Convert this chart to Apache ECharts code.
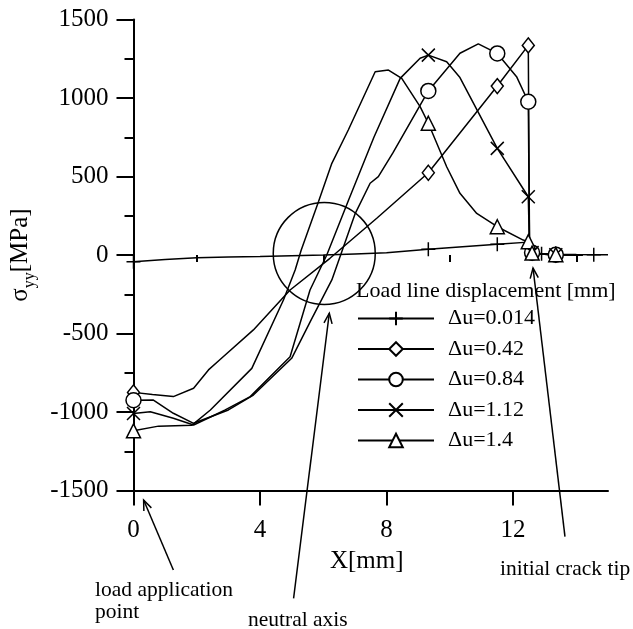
<!DOCTYPE html>
<html lang="en">
<head>
<meta charset="UTF-8">
<title>σyy along the ligament</title>
<script src="https://cdn.jsdelivr.net/npm/echarts@6/dist/echarts.min.js"></script>
<style>
  body { margin: 0; padding: 0; background: #fff; }
  #chart { width: 633px; height: 629px; }
</style>
</head>
<body>
<div id="chart"></div>
<script>
const FONT = "'Liberation Serif', 'Times New Roman', serif";

// x [mm], sigma_yy [MPa]
const du0014 = [[0,-43],[1,-28],[2,-18],[3,-13],[4,-10],[5,-5],[6,0],[7,7],[8,14],[9.32,36],[10.4,52],[11.5,68],[12.48,82],[12.52,15],[12.6,12],[12.9,8],[13.35,5],[14,3],[14.55,2],[15,2]];
const du042 = [[0,-875],[0.6,-888],[1.26,-902],[1.9,-849],[2.37,-732],[2.72,-669],[3.79,-477],[4.95,-223],[6.21,-21],[7.69,234],[9.32,524],[11.5,1076],[12.48,1335],[12.52,25],[12.6,15],[13,5],[13.35,2],[14.2,0]];
const du084 = [[0,-925],[0.63,-924],[1.26,-1008],[1.9,-1072],[3.0,-987],[3.79,-892],[5.0,-658],[5.6,-420],[6.27,-159],[7.0,260],[7.48,457],[7.74,499],[8.2,650],[9.32,1045],[10.32,1285],[10.9,1345],[11.5,1284],[12.11,1136],[12.48,976],[12.52,25],[12.6,15],[13,5],[13.35,2],[14.2,0]];
const du112 = [[0,-1010],[0.53,-998],[1.26,-1040],[1.9,-1083],[2.9,-987],[3.69,-902],[4.95,-648],[5.58,-223],[6.11,0],[6.8,350],[7.6,750],[8.43,1125],[9.06,1253],[9.32,1273],[9.9,1231],[10.32,1130],[11.5,679],[12.48,371],[12.52,25],[12.6,15],[13,5],[13.35,2],[14.2,0]];
const du14 = [[0,-1120],[0.79,-1090],[1.84,-1085],[2.43,-987],[3.74,-722],[4.74,-287],[5.11,-96],[5.3,30],[5.85,340],[6.27,584],[6.79,796],[7.64,1167],[8.06,1178],[8.48,1125],[9.06,945],[9.32,839],[9.9,562],[10.32,393],[10.85,265],[11.5,180],[12.32,95],[12.48,85],[12.52,20],[12.6,12],[13,5],[13.35,2],[14.2,0]];

// x positions that carry a marker
const marks0014 = [0, 9.32, 11.5, 12.6, 12.9, 14.55];
const marksOther = [0, 9.32, 11.5, 12.48, 12.6, 13.35];

const seriesNames = ['\u0394u=0.014', '\u0394u=0.42', '\u0394u=0.84', '\u0394u=1.12', '\u0394u=1.4'];
const xMajorTicks = [0, 4, 8, 12];
const xMinorTicks = [2, 6, 10, 14];

const PLUS = 'path://M5,0L5,10M0,5L10,5';
const CROSS = 'path://M0,0L10,10M10,0L0,10';

function curve(name, pts, marks, symbol, size) {
  return {
    name: name,
    type: 'line',
    symbol: symbol,
    symbolSize: size,
    showAllSymbol: true,
    data: pts.map(p => marks.includes(p[0]) ? { value: p } : { value: p, symbol: 'none' }),
    lineStyle: { color: '#000', width: 1.5 },
    itemStyle: { color: '#fff', borderColor: '#000', borderWidth: 1.5 },
    emphasis: { disabled: true }
  };
}

const chart = echarts.init(document.getElementById('chart'));

const option = {
  animation: false,
  backgroundColor: '#fff',
  grid: { left: 133.5, top: 19.5, width: 474.5, height: 471, outerBoundsMode: 'none', containLabel: false },
  xAxis: [
    {
      type: 'value', min: 0, max: 15, interval: 4,
      name: 'X[mm]', nameLocation: 'middle', nameGap: 58,
      nameTextStyle: { fontFamily: FONT, fontSize: 25, color: '#000', padding: [0, 8, 0, 0] },
      axisLine: { onZero: false, lineStyle: { color: '#000', width: 2 } },
      axisTick: { customValues: xMajorTicks, length: 15, lineStyle: { color: '#000', width: 2 } },
      axisLabel: { customValues: xMajorTicks, margin: 27, fontFamily: FONT, fontSize: 25, color: '#000' },
      splitLine: { show: false }
    },
    {
      type: 'value', min: 0, max: 15, position: 'bottom',
      axisLine: { show: false },
      axisTick: { customValues: xMinorTicks, length: 7, lineStyle: { color: '#000', width: 2 } },
      axisLabel: { show: false },
      splitLine: { show: false }
    }
  ],
  yAxis: {
    type: 'value', min: -1500, max: 1500, interval: 500,
    name: '{s|\u03c3}{sub|yy}{s|[MPa]}', nameLocation: 'middle', nameRotate: 90, nameGap: 96,
    nameTextStyle: {
      rich: {
        s: { fontFamily: FONT, fontSize: 25, color: '#000', lineHeight: 34 },
        sub: { fontFamily: FONT, fontSize: 16, color: '#000', lineHeight: 34, verticalAlign: 'bottom' }
      }
    },
    axisLine: { onZero: false, lineStyle: { color: '#000', width: 2 } },
    axisTick: { length: 17, lineStyle: { color: '#000', width: 2 } },
    minorTick: { show: true, splitNumber: 2, length: 9, lineStyle: { color: '#000', width: 2 } },
    axisLabel: { margin: 25, fontFamily: FONT, fontSize: 25, color: '#000', formatter: v => String(v) },
    splitLine: { show: false }
  },
  legend: {
    orient: 'vertical', left: 357, top: 307.5, padding: 0,
    itemWidth: 76, itemHeight: 17, itemGap: 8.5,
    data: seriesNames,
    selectedMode: false,
    textStyle: { fontFamily: FONT, fontSize: 22, color: '#000', padding: [0, 0, 0, 9] }
  },
  series: [
    curve(seriesNames[0], du0014, marks0014, PLUS, 14),
    curve(seriesNames[1], du042, marksOther, 'diamond', [12, 15]),
    curve(seriesNames[2], du084, marksOther, 'circle', 15),
    curve(seriesNames[3], du112, marksOther, CROSS, 13),
    curve(seriesNames[4], du14, marksOther, 'triangle', 14)
  ]
};

chart.setOption(option);

// annotations, anchored in data coordinates
function px(p) { return chart.convertToPixel({ gridIndex: 0 }, p); }

function arrow(tail, tip) {
  const a = px(tail), b = px(tip);
  const ang = Math.atan2(a[1] - b[1], a[0] - b[0]);
  const len = 11, spread = 0.38;
  const h1 = [b[0] + len * Math.cos(ang + spread), b[1] + len * Math.sin(ang + spread)];
  const h2 = [b[0] + len * Math.cos(ang - spread), b[1] + len * Math.sin(ang - spread)];
  const st = { stroke: '#000', lineWidth: 1.5, fill: null };
  return [
    { type: 'line', shape: { x1: a[0], y1: a[1], x2: b[0], y2: b[1] }, style: st, silent: true },
    { type: 'polyline', shape: { points: [h1, b, h2] }, style: st, silent: true }
  ];
}

function label(text, x, y, size) {
  return { type: 'text', left: x, top: y, silent: true,
    style: { text: text, fontFamily: FONT, fontSize: size, fill: '#000', lineHeight: 22 } };
}

const ring = px([6.03, 10]);
const graphics = [
  { type: 'circle', shape: { cx: ring[0], cy: ring[1], r: 51 }, style: { stroke: '#000', lineWidth: 1.5, fill: null }, silent: true },
  ...arrow([1.26, -2006], [0.32, -1561]),
  ...arrow([5.06, -2187], [6.19, -371]),
  ...arrow([13.64, -1794], [12.63, -83]),
  label('Load line displacement [mm]', 356, 280, 22),
  label('load application\npoint', 95, 579, 21.5),
  label('neutral axis', 248, 609, 21.5),
  label('initial crack tip', 500, 558, 21.5)
];

chart.setOption({ graphic: graphics });
</script>
</body>
</html>
